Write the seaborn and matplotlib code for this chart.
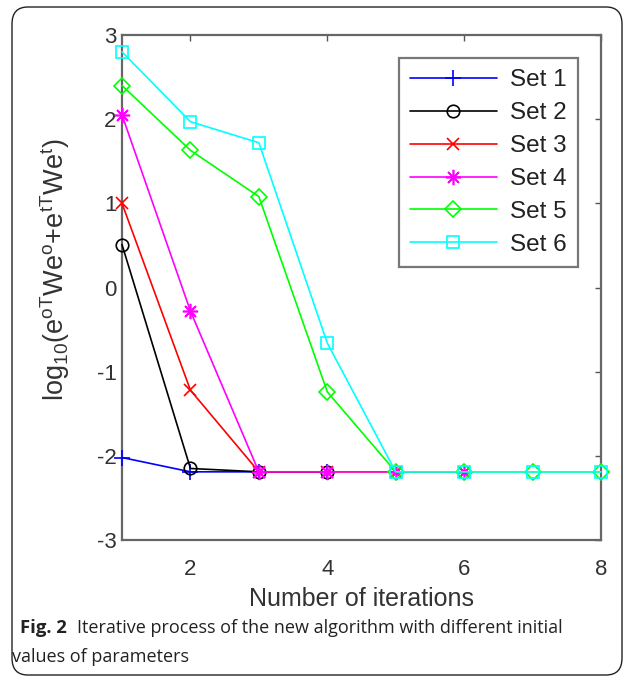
import matplotlib
matplotlib.use("Agg")
import matplotlib.pyplot as plt
import seaborn as sns
import pandas as pd
from matplotlib.patches import FancyBboxPatch

# ---- data ----
set_names = ["Set 1", "Set 2", "Set 3", "Set 4", "Set 5", "Set 6"]
set1_x = [1, 2, 3, 4]
set1_y = [-2.02, -2.19, -2.19, -2.19]
set2_x = [1, 2, 3, 4]
set2_y = [0.51, -2.15, -2.19, -2.19]
set3_x = [1, 2, 3, 4, 5]
set3_y = [1.00, -1.22, -2.19, -2.19, -2.19]
set4_x = [1, 2, 3, 4, 5, 6]
set4_y = [2.05, -0.28, -2.19, -2.19, -2.19, -2.19]
set5_x = [1, 2, 3, 4, 5, 6, 7, 8]
set5_y = [2.40, 1.63, 1.08, -1.24, -2.19, -2.19, -2.19, -2.19]
set6_x = [1, 2, 3, 4, 5, 6, 7, 8]
set6_y = [2.80, 1.97, 1.72, -0.66, -2.19, -2.19, -2.19, -2.19]
x_ticks = [2, 4, 6, 8]
y_ticks = [-3, -2, -1, 0, 1, 2, 3]

series_x = [set1_x, set2_x, set3_x, set4_x, set5_x, set6_x]
series_y = [set1_y, set2_y, set3_y, set4_y, set5_y, set6_y]
colors = ["#0000ff", "#000000", "#ff0000", "#ff00ff", "#00ff00", "#00ffff"]
markers = ["+", "o", "x", (8, 2, 0), "D", "s"]
msizes = [11, 9, 9, 11, 8, 8]

sns.set_style("white")
plt.rcParams["font.family"] = ["Liberation Sans", "DejaVu Sans"]
plt.rcParams["axes.unicode_minus"] = False
plt.rcParams["mathtext.fontset"] = "custom"
plt.rcParams["mathtext.rm"] = "Liberation Sans"
plt.rcParams["mathtext.it"] = "Liberation Sans"

fig = plt.figure(figsize=(6.35, 6.80), dpi=100)
ax = fig.add_axes([122 / 635, 1 - 540 / 680, (601 - 122) / 635, (540 - 35) / 680])

for name, xs, ys, c, m, ms in zip(set_names, series_x, series_y, colors, markers, msizes):
    df = pd.DataFrame({"x": xs, "y": ys})
    sns.lineplot(data=df, x="x", y="y", ax=ax, color=c, marker=m,
                 markersize=ms, markerfacecolor="none", markeredgecolor=c,
                 markeredgewidth=1.2, linewidth=1.2, label=name,
                 clip_on=False, zorder=3)

ax.set_xlim(1, 8)
ax.set_ylim(-3, 3)
ax.set_xticks(x_ticks)
ax.set_yticks(y_ticks)
ax.tick_params(direction="in", length=4, width=1, colors="#555555",
               labelcolor="#333333", labelsize=16, top=True, right=True)
ax.tick_params(axis="x", pad=14)
ax.tick_params(axis="y", pad=4)
for sp in ax.spines.values():
    sp.set_color("#666666")
    sp.set_linewidth(1.6)
    sp.set_visible(True)

ax.set_xlabel("Number of iterations", fontsize=18, color="#333333", labelpad=5)
ax.set_ylabel(r"log$_{10}$(e$^{oT}$We$^{o}$+e$^{tT}$We$^{t}$)",
              fontsize=19.5, color="#333333")
ax.yaxis.set_label_coords(-0.104, 0.535)

leg = ax.legend(loc="upper right", bbox_to_anchor=(0.952, 0.954),
                borderaxespad=0, fontsize=17.5, frameon=True, fancybox=False,
                handlelength=3.6, handletextpad=0.55, labelspacing=0.45,
                borderpad=0.45)
leg.get_frame().set_edgecolor("#555555")
leg.get_frame().set_linewidth(1.6)
for t in leg.get_texts():
    t.set_color("#222222")

# caption
cap_font = ["Open Sans", "DejaVu Sans"]
fig.text(20 / 635, 1 - 628 / 680, "Fig. 2", fontsize=13.3, fontweight="bold",
         family=cap_font, va="center", ha="left", color="#222222")
fig.text(77 / 635, 1 - 628 / 680,
         "Iterative process of the new algorithm with different initial",
         fontsize=13, family=cap_font, va="center", ha="left",
         color="#222222")
fig.text(12 / 635, 1 - 657 / 680, "values of parameters", fontsize=13,
         family=cap_font, va="center", ha="left", color="#222222")

# rounded border
box = FancyBboxPatch((12 / 635, 5 / 680), (622 - 12) / 635, (673 - 5) / 680,
                     boxstyle="round,pad=0,rounding_size=0.025",
                     transform=fig.transFigure, fill=False,
                     edgecolor="#222222", linewidth=1.0)
fig.patches.append(box)

fig.savefig("out.png", dpi=100)
